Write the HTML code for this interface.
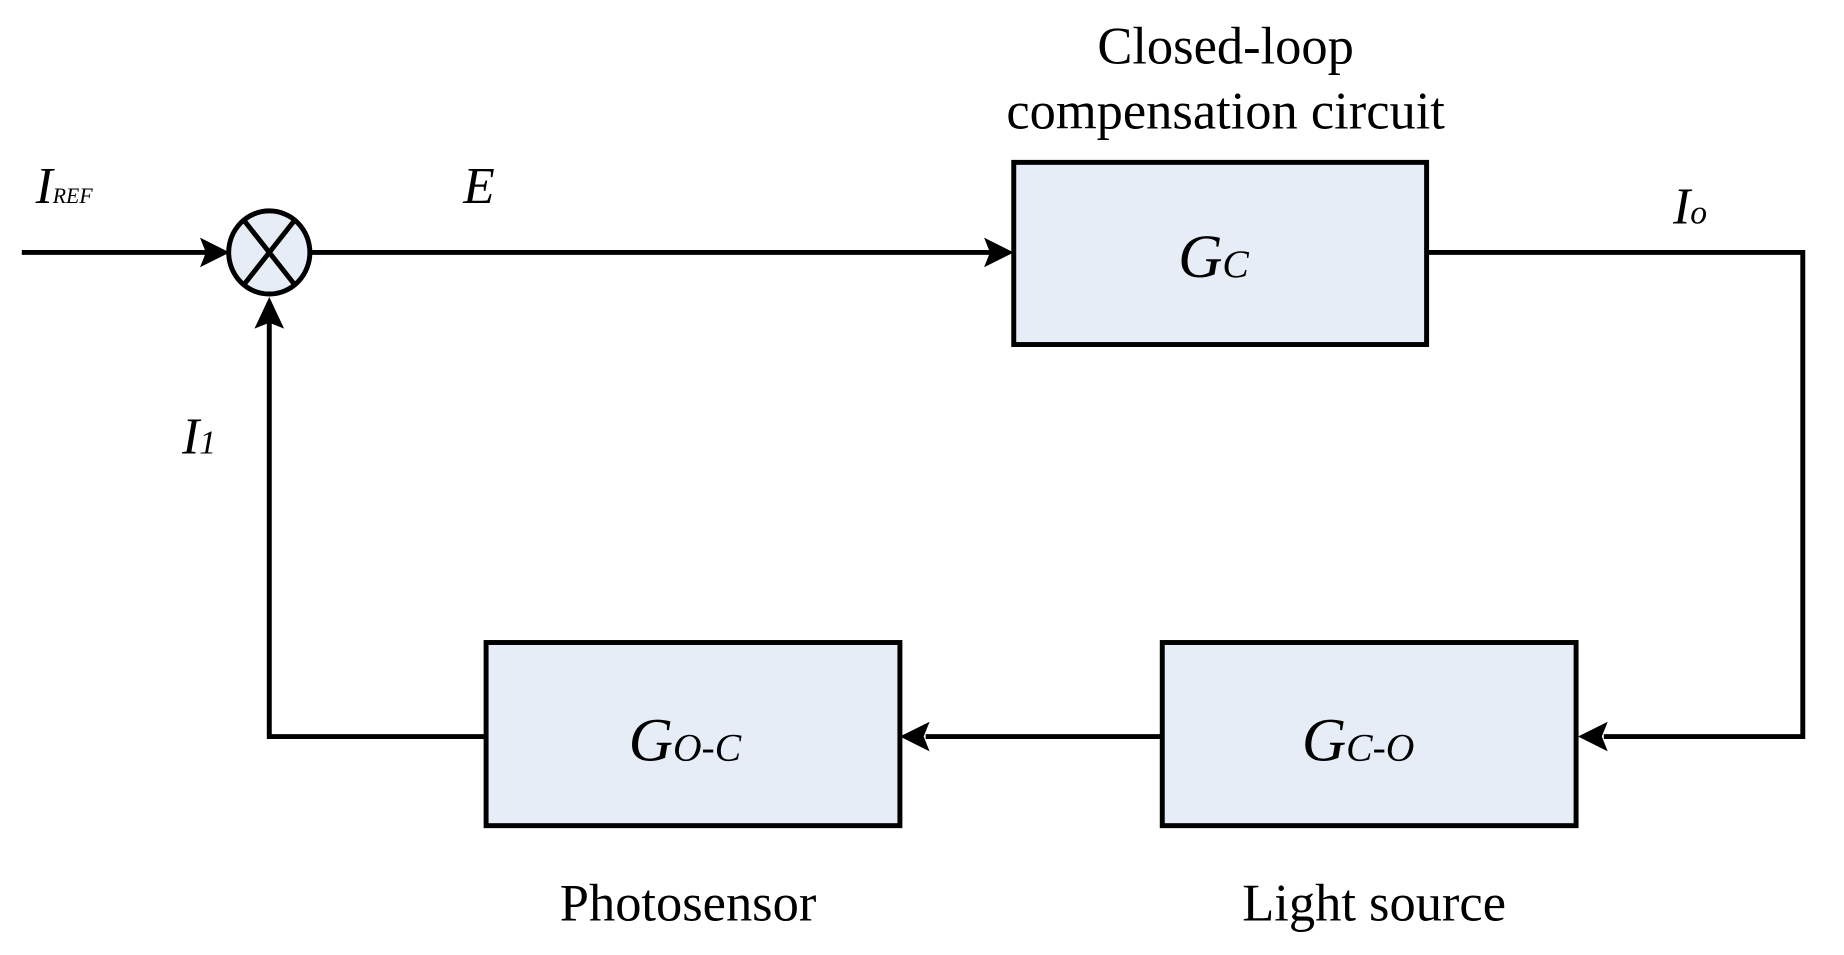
<!DOCTYPE html>
<html><head><style>body{margin:0;background:#fff}</style></head><body>
<svg width="1844" height="950" viewBox="0 0 1844 950" xmlns="http://www.w3.org/2000/svg" font-family="Liberation Serif, serif">
<g transform="scale(0.99)">
<g stroke="#000" stroke-width="5" fill="none">
<line x1="22" y1="255" x2="220" y2="255"/>
<line x1="314" y1="255" x2="1000" y2="255"/>
<polyline points="1441,255 1821,255 1821,744 1620,744"/>
<line x1="1174" y1="744" x2="935" y2="744"/>
<polyline points="491,744 272,744 272,325"/>
</g>
<g fill="#000">
<polygon points="232,255 202,240 208,255 202,270"/>
<polygon points="1024,255 994,240 1000,255 994,270"/>
<polygon points="1594,744 1624,729 1618,744 1624,759"/>
<polygon points="909,744 939,729 933,744 939,759"/>
<polygon points="272,300 257,332 272,326 287,332"/>
</g>
<ellipse cx="272" cy="255" rx="41" ry="42" fill="#e6edf7" stroke="#000" stroke-width="5"/>
<line x1="246" y1="222" x2="298" y2="288" stroke="#000" stroke-width="5"/>
<line x1="298" y1="222" x2="246" y2="288" stroke="#000" stroke-width="5"/>
<g fill="#e6edf7" stroke="#000" stroke-width="5">
<rect x="1024" y="164" width="417" height="184"/>
<rect x="1174" y="649" width="418" height="185"/>
<rect x="491" y="649" width="418" height="185"/>
</g>
<g font-style="italic" fill="#000">
<text x="1190" y="280" font-size="62">G<tspan font-size="40">C</tspan></text>
<text x="1315" y="768" font-size="62">G<tspan font-size="40">C-O</tspan></text>
<text x="635" y="768" font-size="62">G<tspan font-size="40">O-C</tspan></text>
<text x="36" y="205" font-size="52">I<tspan font-size="22">REF</tspan></text>
<text x="468" y="205" font-size="52">E</text>
<text x="1690" y="226" font-size="52">I<tspan font-size="34">o</tspan></text>
<text x="184" y="458" font-size="52">I<tspan font-size="34">1</tspan></text>
</g>
<g font-size="53" text-anchor="middle" fill="#000">
<text x="1238" y="64">Closed-loop</text>
<text x="1238" y="130">compensation circuit</text>
<text x="695" y="930">Photosensor</text>
<text x="1388" y="930">Light source</text>
</g>
</g>
</svg>
</body></html>
